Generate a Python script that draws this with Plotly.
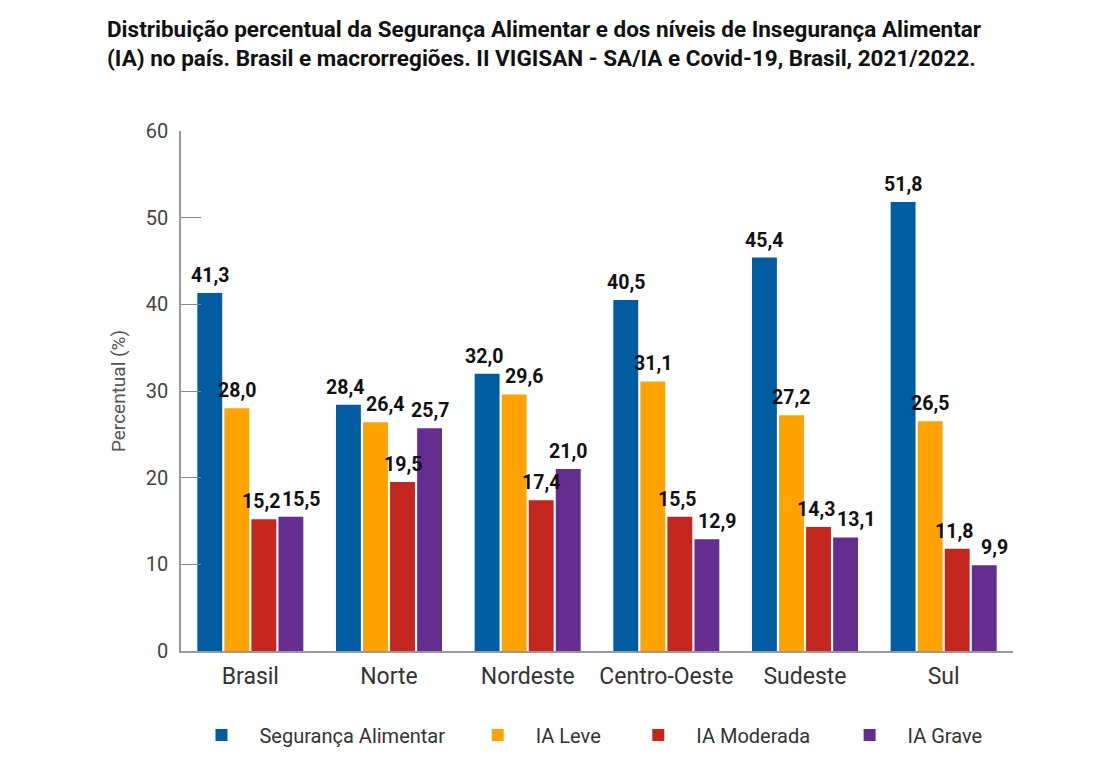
import plotly.graph_objects as go

categories = ["Brasil", "Norte", "Nordeste", "Centro-Oeste", "Sudeste", "Sul"]
seguranca = [41.3, 28.4, 32.0, 40.5, 45.4, 51.8]
ia_leve = [28.0, 26.4, 29.6, 31.1, 27.2, 26.5]
ia_moderada = [15.2, 19.5, 17.4, 15.5, 14.3, 11.8]
ia_grave = [15.5, 25.7, 21.0, 12.9, 13.1, 9.9]

series_names = ["Segurança Alimentar", "IA Leve", "IA Moderada", "IA Grave"]
series_values = [seguranca, ia_leve, ia_moderada, ia_grave]
colors = ["#005DA2", "#FFA300", "#C2261C", "#652D90"]

W, H = 1101, 759
ML, MR, MT, MB = 181, 88, 131, 108
BARGAP = 0.22
YMAX = 60

legend_ids = ["legend", "legend2", "legend3", "legend4"]
legend_x = [0.003, 0.335, 0.528, 0.782]

fig = go.Figure()
for name, vals, col, lg in zip(series_names, series_values, colors, legend_ids):
    fig.add_trace(go.Bar(
        x=categories, y=vals, name=name, legend=lg,
        marker=dict(color=col, line=dict(width=0)),
    ))

# value labels, with a simple collision nudge between neighbouring bars
plot_w = W - ML - MR
plot_h = H - MT - MB
n_series = len(series_values)
slot = plot_w / len(categories) * (1 - BARGAP) / n_series
label_font = dict(family="Roboto", size=19.5, color="#111111", weight="bold")
for ci, cat in enumerate(categories):
    nudges = [0.0] * n_series
    for si in range(n_series - 1):
        a = series_values[si][ci]
        b = series_values[si + 1][ci]
        if abs(a - b) < 2.7:
            nudges[si] -= 3
            nudges[si + 1] += 10
    for si in range(n_series):
        v = series_values[si][ci]
        fig.add_annotation(
            x=cat, y=v, xref="x", yref="y",
            text=f"{v:.1f}".replace(".", ","),
            showarrow=False, yanchor="bottom", xanchor="center",
            xshift=(si - (n_series - 1) / 2) * slot + nudges[si],
            yshift=4, font=label_font,
        )

legend_common = dict(
    orientation="h", xanchor="left",
    yref="container", y=(H - 735) / H, yanchor="middle",
    font=dict(family="Roboto", size=20, color="#333333"),
    itemwidth=66, bgcolor="rgba(0,0,0,0)",
)

fig.update_layout(
    width=W, height=H,
    paper_bgcolor="white", plot_bgcolor="white",
    separators=",.",
    barmode="group", bargap=BARGAP, bargroupgap=0.08,
    margin=dict(l=ML, r=MR, t=MT, b=MB),
    font=dict(family="Roboto", color="#333333"),
    title=dict(
        text="Distribuição percentual da Segurança Alimentar e dos níveis de Insegurança Alimentar<br>(IA) no país. Brasil e macrorregiões. II VIGISAN - SA/IA e Covid-19, Brasil, 2021/2022.",
        font=dict(family="Roboto", size=22.5, color="#111111", weight="bold"),
        xref="container", x=107 / W, xanchor="left",
        yref="container", y=1 - 37 / H, yanchor="top",
    ),
    showlegend=True,
    legend=dict(x=legend_x[0], **legend_common),
    legend2=dict(x=legend_x[1], **legend_common),
    legend3=dict(x=legend_x[2], **legend_common),
    legend4=dict(x=legend_x[3], **legend_common),
    xaxis=dict(
        showline=True, linecolor="#999999", linewidth=1.5,
        ticks="", showgrid=False, automargin=False,
        tickfont=dict(family="Roboto", size=23, color="#333333"),
        ticklabelstandoff=4,
    ),
    yaxis=dict(
        range=[0, YMAX], dtick=10, showgrid=False, zeroline=False,
        showline=True, linecolor="#999999", linewidth=1.5,
        ticks="inside", ticklen=20, tickcolor="#888888", tickwidth=1,
        tickfont=dict(family="Roboto", size=20, color="#444444"),
        ticklabelstandoff=7, automargin=False,
        title=dict(text="Percentual (%)", font=dict(family="Roboto", size=19, color="#555555"), standoff=15),
    ),
)

fig.write_html("out.html", config={"displayModeBar": False},
               post_script="document.body.style.margin='0';")
